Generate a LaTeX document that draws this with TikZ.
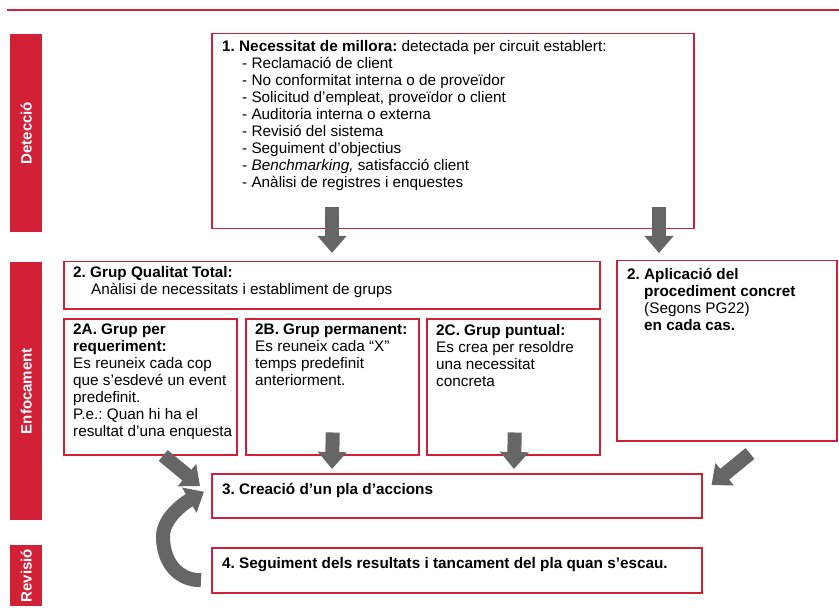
\documentclass[tikz,border=0pt]{standalone}
\usepackage{fontspec}
\setmainfont{Liberation Sans}
\usetikzlibrary{positioning,arrows.meta,calc}
\definecolor{figred}{RGB}{210,32,55}
\definecolor{arrowgray}{RGB}{102,102,102}
\frenchspacing

\begin{document}
\begin{tikzpicture}[x=1pt,y=-1pt,
  box/.style={draw=figred,line width=1.5pt,inner sep=0pt,anchor=north west},
  tag/.style={fill=figred,inner sep=0pt,anchor=north west,minimum width=32pt},
  tagtext/.style={text=white,font=\bfseries\fontsize{15}{17}\selectfont,rotate=90},
  body/.style={anchor=north west,inner sep=0pt,align=left,font=\fontsize{15.3}{17}\selectfont},
  bigarrow/.style={draw=arrowgray,line width=14pt,-{Triangle[width=28pt,length=17pt]}}]
\useasboundingbox (0,0) rectangle (839,615);
\draw[figred,line width=2.5pt] (7,10) -- (839,10);
% phase bars
\foreach \nm/\y/\h/\txt in {det/34/198/Detecció, enf/262/258/Enfocament, rev/545/61/Revisió}{
  \node[tag,minimum height=\h pt] (\nm) at (10,\y) {};
  \node[tagtext] at (\nm.center) {\txt};
}
% boxes
\foreach \nm/\x/\y/\w/\h in {b1/211/33/482/195, b2/63/261/536/47,
  b2a/63/318/173/136, b2b/245/318/173/136, b2c/426/318/173/136,
  bap/616/260/220/180, b3/211/473/490/44, b4/211/547/490/45}
  \node[box,minimum width=\w pt,minimum height=\h pt] (\nm) at (\x,\y) {};
% texts
\node[body] (t1) at ($(b1.north west)+(11,7)$) {\textbf{1. Necessitat de millora:} detectada per circuit establert:\\
  \hspace*{20pt}- Reclamació de client\\
  \hspace*{20pt}- No conformitat interna o de proveïdor\\
  \hspace*{20pt}- Solicitud d’empleat, proveïdor o client\\
  \hspace*{20pt}- Auditoria interna o externa\\
  \hspace*{20pt}- Revisió del sistema\\
  \hspace*{20pt}- Seguiment d’objectius\\
  \hspace*{20pt}- \textit{Benchmarking,} satisfacció client\\
  \hspace*{20pt}- Anàlisi de registres i enquestes};
\node[body] (t2) at ($(b2.north west)+(10,5)$) {\textbf{2. Grup Qualitat Total:}\\
  \hspace*{18pt}Anàlisi de necessitats i establiment de grups};
\node[body] (t2a) at ($(b2a.north west)+(10,6)$) {\textbf{2A. Grup per}\\\textbf{requeriment:}\\Es reuneix cada cop\\que s’esdevé un event\\predefinit.\\P.e.: Quan hi ha el\\resultat d’una enquesta};
\node[body] (t2b) at ($(b2b.north west)+(10,6)$) {\textbf{2B. Grup permanent:}\\Es reuneix cada “X”\\temps predefinit\\anteriorment.};
\node[body] (t2c) at ($(b2c.north west)+(10,6)$) {\textbf{2C. Grup puntual:}\\Es crea per resoldre\\una necessitat\\concreta};
\node[body] (tap) at ($(bap.north west)+(11,8)$) {\textbf{2. Aplicació del}\\
  \hspace*{17pt}\textbf{procediment concret}\\
  \hspace*{17pt}(Segons PG22)\\
  \hspace*{17pt}\textbf{en cada cas.}};
\node[body,font=\bfseries\fontsize{15.3}{17}\selectfont] (t3) at ($(b3.north west)+(11,10)$) {3. Creació d’un pla d’accions};
\node[body,font=\bfseries\fontsize{15.3}{17}\selectfont] (t4) at ($(b4.north west)+(11,10)$) {4. Seguiment dels resultats i tancament del pla quan s’escau.};
% arrows
\draw[bigarrow] ($(b1.south west)+(121,-22)$) -- ($(b2.north west)+(269,-8)$);
\draw[bigarrow] ($(b1.south west)+(448,-22)$) -- ($(bap.north west)+(43,-7)$);
\draw[bigarrow] ($(b2b.south)+(0.5,-23)$) -- ($(b3.north west)+(121,-4)$);
\draw[bigarrow] ($(b2c.south)+(1.5,-23)$) -- ($(b3.north west)+(303,-4)$);
\draw[bigarrow] ($(b2a.south)+(13,0)$) -- ($(b3.north west)+(-11,13)$);
\draw[bigarrow] ($(bap.south west)+(134,12)$) -- ($(b3.north east)+(9,12)$);
\draw[bigarrow] ($(b4.west)+(-10,10)$) .. controls ($(b4.west)+(-33,10)$) and ($(b4.west)+(-48,-8)$)
  .. ($(b3.south west)+(-48,18)$) .. controls ($(b3.south west)+(-48,0)$) and ($(b3.west)+(-28,8)$)
  .. ($(b3.west)+(-7,-4)$);
\end{tikzpicture}
\end{document}
